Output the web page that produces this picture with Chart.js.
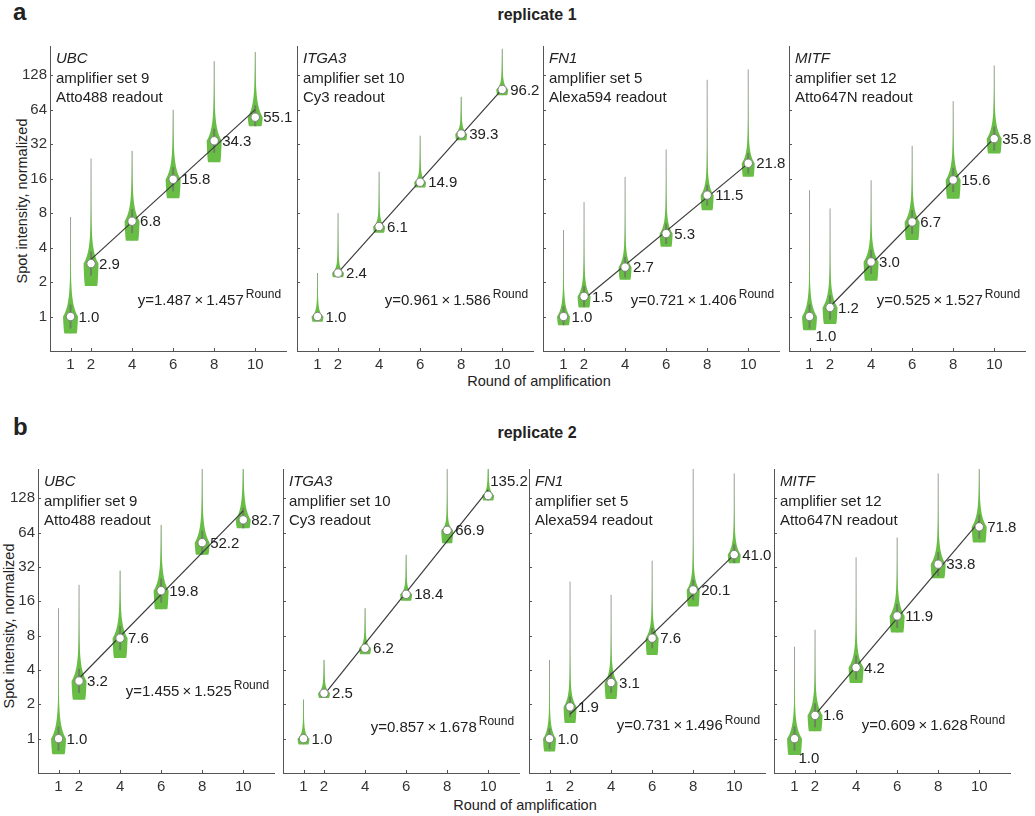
<!DOCTYPE html>
<html>
<head>
<meta charset="utf-8">
<script src="https://cdn.jsdelivr.net/npm/chart.js@4.4.1/dist/chart.umd.min.js"></script>
<style>
body{margin:0;background:#fff;width:1035px;height:816px;position:relative;overflow:hidden;font-family:"Liberation Sans",Arial,sans-serif;color:#222}
canvas{position:absolute}
.t{position:absolute;white-space:nowrap}
</style>
</head>
<body>
<div class="t" style="left:13px;top:0px;font-size:24px;line-height:24px;font-weight:bold">a</div>
<div class="t" style="left:437px;width:200px;text-align:center;top:6px;font-size:16px;line-height:18px;font-weight:bold">replicate 1</div>
<div class="t" style="left:13px;top:415px;font-size:24px;line-height:24px;font-weight:bold">b</div>
<div class="t" style="left:437px;width:200px;text-align:center;top:424px;font-size:16px;line-height:18px;font-weight:bold">replicate 2</div>
<div class="t" style="left:539px;top:381px;font-size:14.5px;transform:translate(-50%,-50%)">Round of amplification</div>
<div class="t" style="left:525px;top:805px;font-size:14.5px;transform:translate(-50%,-50%)">Round of amplification</div>
<div class="t" style="left:22px;top:201px;font-size:14.5px;transform:translate(-50%,-50%) rotate(-90deg)">Spot intensity, normalized</div>
<div class="t" style="left:9px;top:626px;font-size:14.5px;transform:translate(-50%,-50%) rotate(-90deg)">Spot intensity, normalized</div>
<script>
const F='"Liberation Sans", Arial, sans-serif';

/* DATA */
const rounds=[1,2,4,6,8,10];
const xTicks=[1,2,4,6,8,10];
const yTicks=[1,2,4,8,16,32,64,128];
const genes=["UBC","ITGA3","FN1","MITF"];
const ampSets=["amplifier set 9","amplifier set 10","amplifier set 5","amplifier set 12"];
const readouts=["Atto488 readout","Cy3 readout","Alexa594 readout","Atto647N readout"];

// replicate 1 : median, violin bottom, whisker top
const med1=[[1.0,2.9,6.8,15.8,34.3,55.1],[1.0,2.4,6.1,14.9,39.3,96.2],[1.0,1.5,2.7,5.3,11.5,21.8],[1.0,1.2,3.0,6.7,15.6,35.8]];
const low1=[[0.71,1.85,4.6,10.8,22.3,46],[0.9,2.2,5.4,13.4,34.7,85.6],[0.84,1.2,2.1,4.06,8.5,16.6],[0.76,0.86,2.05,4.65,10.7,26.6]];
const top1=[[7.4,24,28,64,170,205],[2.4,8,18.4,38,83,218],[5.7,10,16.6,28.8,117,144],[12.7,8.8,15.5,31,76,156]];
const fitA1=[1.487,0.961,0.721,0.525];
const fitB1=[1.457,1.586,1.406,1.527];

// replicate 2
const med2=[[1.0,3.2,7.6,19.8,52.2,82.7],[1.0,2.5,6.2,18.4,66.9,135.2],[1.0,1.9,3.1,7.6,20.1,41.0],[1.0,1.6,4.2,11.9,33.8,71.8]];
const low2=[[0.73,2.19,5.1,13.6,40.8,69.7],[0.89,2.27,5.5,16.2,51.6,122],[0.77,1.37,2.23,5.4,14.4,34.5],[0.72,1.16,3.07,8.5,25.5,52.3]];
const top2=[[13.9,22.3,29.7,74.6,300,300],[2.2,4.9,13.9,40.8,300,240],[4.9,23.8,18.2,36.3,300,211],[6.4,9.0,38.8,58,211,300]];
const fitA2=[1.455,0.857,0.731,0.609];
const fitB2=[1.525,1.678,1.496,1.628];

/* LAYOUT + STYLE */
const rows=[
 {top:46,h:305,lefts:[50,297,543,789],eqY:[0.46,0.46,0.46,0.46]},
 {top:469,h:304,lefts:[38,283,529,774],eqY:[1.37,0.31,0.36,0.36]}
];
const PW=236,PADL=50,PADR=46,PADT=16,PADB=30;
const YMAX=Math.pow(2,7.85);
const GREEN="rgb(104,189,69)";
const vW=[7.5,6,6.5,7.5], vD1=[0.3,0.12,0.22,0.28], vD2=[0.7,0.55,0.6,0.6], vM=[0.7,0.75,0.7,0.7], vIqr=[0.35,0.1,0.3,0.35];
const labelShift={"0-3-0":[-2,19],"1-3-0":[-4,19],"1-1-5":[-6,-15]};

const reps=[{med:med1,low:low1,top:top1,A:fitA1,B:fitB1},{med:med2,low:low2,top:top2,A:fitA2,B:fitB2}];

function halfW(u,lo,pk,g){
 const W=vW[g];
 if(u<=pk){
  let s=(u-lo)/Math.max(pk-lo,0.05);
  return W*(0.8+0.2*Math.sqrt(Math.min(1,s)));
 }
 let d=u-pk;
 return W*(vM[g]*Math.exp(-d/vD1[g])+(1-vM[g])*Math.exp(-d/vD2[g]));
}

function violinPlugin(r,g){
 return {id:"violins",beforeDatasetsDraw(chart){
  const {ctx,chartArea:a,scales:{x,y}}=chart;
  const R=reps[r];
  ctx.save();
  ctx.beginPath();ctx.rect(0,a.top,chart.width,a.bottom-a.top);ctx.clip();
  rounds.forEach((rd,i)=>{
   const xp=x.getPixelForValue(rd);
   const lo=Math.log2(R.low[g][i]), hi=Math.log2(R.top[g][i]), pk=Math.log2(R.med[g][i]);
   // whisker
   ctx.strokeStyle="#a0a0a0";ctx.lineWidth=1;
   ctx.beginPath();ctx.moveTo(xp,y.getPixelForValue(R.low[g][i]));ctx.lineTo(xp,y.getPixelForValue(R.top[g][i]));ctx.stroke();
   // body
   const n=160, pts=[];
   for(let k=0;k<=n;k++){
    const u=lo+(hi-lo)*k/n;
    pts.push([y.getPixelForValue(Math.pow(2,u)),halfW(u,lo,pk,g)]);
   }
   ctx.fillStyle=GREEN;
   ctx.beginPath();
   pts.forEach((p,k)=>{k?ctx.lineTo(xp-p[1],p[0]):ctx.moveTo(xp-p[1],p[0]);});
   for(let k=pts.length-1;k>=0;k--)ctx.lineTo(xp+pts[k][1],pts[k][0]);
   ctx.closePath();ctx.fill();
   // iqr
   ctx.strokeStyle="rgba(110,110,110,0.7)";ctx.lineWidth=2;
   ctx.beginPath();
   ctx.moveTo(xp,y.getPixelForValue(Math.pow(2,Math.max(lo,pk-vIqr[g]))));
   ctx.lineTo(xp,y.getPixelForValue(Math.pow(2,pk+vIqr[g])));
   ctx.stroke();
  });
  ctx.restore();
 }};
}

function textPlugin(r,g){
 return {id:"texts",afterDatasetsDraw(chart){
  const {ctx,chartArea:a,scales:{x,y}}=chart;
  const R=reps[r];
  ctx.save();
  ctx.fillStyle="#222";ctx.textBaseline="middle";ctx.textAlign="left";
  // gene block
  ctx.font="italic 15px "+F;ctx.fillText(genes[g],a.left+6,a.top+13);
  ctx.font="15px "+F;
  ctx.fillText(ampSets[g],a.left+6,a.top+33);
  ctx.fillText(readouts[g],a.left+6,a.top+52);
  // median labels
  ctx.font="15px "+F;
  rounds.forEach((rd,i)=>{
   const v=R.med[g][i];
   const sh=labelShift[r+"-"+g+"-"+i]||[0,0];
   ctx.fillText(v.toFixed(1),x.getPixelForValue(rd)+8+sh[0],y.getPixelForValue(v)+1+sh[1]);
  });
  // equation
  const ex=x.getPixelForValue(4.27), ey=y.getPixelForValue(Math.pow(2,rows[r].eqY[g]));
  const eq="y="+R.A[g].toFixed(3)+"\u2009\u00d7\u2009"+R.B[g].toFixed(3);
  ctx.font="15px "+F;ctx.fillText(eq,ex,ey);
  const w=ctx.measureText(eq).width;
  ctx.font="12px "+F;ctx.fillText("Round",ex+w+2,ey-6);
  ctx.restore();
 },afterDraw(chart){
  const {ctx,chartArea:a,scales:{x,y}}=chart;
  ctx.save();ctx.strokeStyle="#555";ctx.lineWidth=1;ctx.beginPath();
  yTicks.forEach(v=>{const py=Math.round(y.getPixelForValue(v))+0.5;ctx.moveTo(a.left,py);ctx.lineTo(a.left+3,py);});
  xTicks.forEach(v=>{const px=Math.round(x.getPixelForValue(v))+0.5;ctx.moveTo(px,a.bottom);ctx.lineTo(px,a.bottom-3);});
  ctx.stroke();ctx.restore();
 }};
}

function makeChart(r,g){
 const row=rows[r];
 const cv=document.createElement("canvas");
 cv.width=PADL+PW+PADR;cv.height=PADT+row.h+PADB;
 cv.style.left=(row.lefts[g]-PADL)+"px";cv.style.top=(row.top-PADT)+"px";
 document.body.appendChild(cv);
 const R=reps[r];
 new Chart(cv,{
  type:"line",
  data:{datasets:[
   {type:"scatter",data:rounds.map((rd,i)=>({x:rd,y:R.med[g][i]})),pointRadius:4.2,pointBackgroundColor:"#fff",pointBorderColor:"#808080",pointBorderWidth:1,showLine:false,clip:false,order:0},
   {type:"line",data:[{x:2,y:R.A[g]*Math.pow(R.B[g],2)},{x:10,y:R.A[g]*Math.pow(R.B[g],10)}],borderColor:"#3c3c3c",borderWidth:1.2,pointRadius:0,clip:false,order:1}
  ]},
  options:{
   responsive:false,animation:false,devicePixelRatio:1,
   layout:{padding:{left:0,top:PADT,right:PADR,bottom:0}},
   plugins:{legend:{display:false},tooltip:{enabled:false}},
   scales:{
    x:{type:"linear",min:0,max:11.5,
     afterBuildTicks:s=>{s.ticks=xTicks.map(v=>({value:v}));},
     afterFit:s=>{s.height=PADB;},
     grid:{display:false,drawTicks:false},border:{color:"#555",width:1},
     ticks:{color:"#333",font:{size:15,family:F},padding:5,maxRotation:0,autoSkip:false}},
    y:{type:"logarithmic",min:0.5,max:YMAX,
     afterBuildTicks:s=>{s.ticks=yTicks.map(v=>({value:v}));},
     afterFit:s=>{s.width=PADL;},
     grid:{display:false,drawTicks:false},border:{color:"#555",width:1},
     ticks:{display:g===0,color:"#333",font:{size:15,family:F},padding:3,callback:v=>String(v)}}
   }
  },
  plugins:[violinPlugin(r,g),textPlugin(r,g)]
 });
}

for(let r=0;r<2;r++)for(let g=0;g<4;g++)makeChart(r,g);
</script>
</body>
</html>
